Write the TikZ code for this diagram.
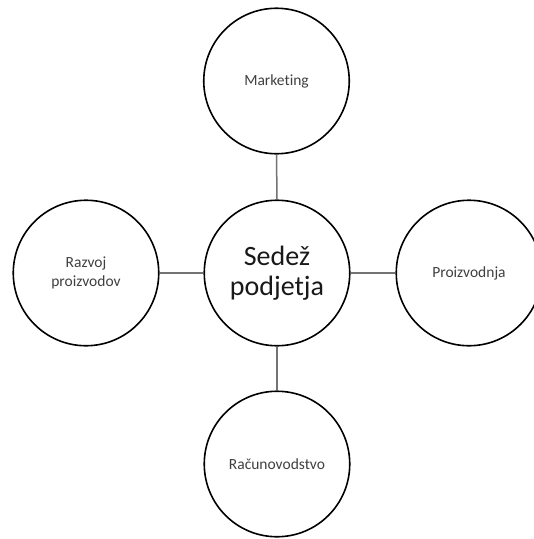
\documentclass[tikz,border=0pt]{standalone}
\usepackage{fontspec}
\setmainfont{Carlito}[Ligatures=NoCommon]
\begin{document}
\begin{tikzpicture}[x=1pt,y=-1pt,
  dept/.style={circle,draw=black,line width=1.6pt,minimum size=145.5pt,inner sep=0pt,
    align=center,text=black!75,font=\fontsize{15.5}{19}\selectfont},
  hq/.style={circle,draw=black,line width=1.6pt,minimum size=145.5pt,inner sep=0pt,
    align=center,text=black!90,font=\fontsize{28}{30}\selectfont},
  link/.style={draw=black!55,line width=1.5pt}]
\useasboundingbox (0,0) rectangle (534,539);
\fill[white] (0,0) rectangle (534,539);
\node[hq] (c) at (277,273) {Sedež\\podjetja};
\node[dept] (t) at (276.5,81) {Marketing};
\node[dept] (l) at (86,273) {Razvoj\\proizvodov};
\node[dept] (r) at (469,273) {Proizvodnja};
\node[dept] (b) at (277,464) {Računovodstvo};
\draw[link] (c) -- (t);
\draw[link] (c) -- (l);
\draw[link] (c) -- (r);
\draw[link] (c) -- (b);
\end{tikzpicture}
\end{document}
